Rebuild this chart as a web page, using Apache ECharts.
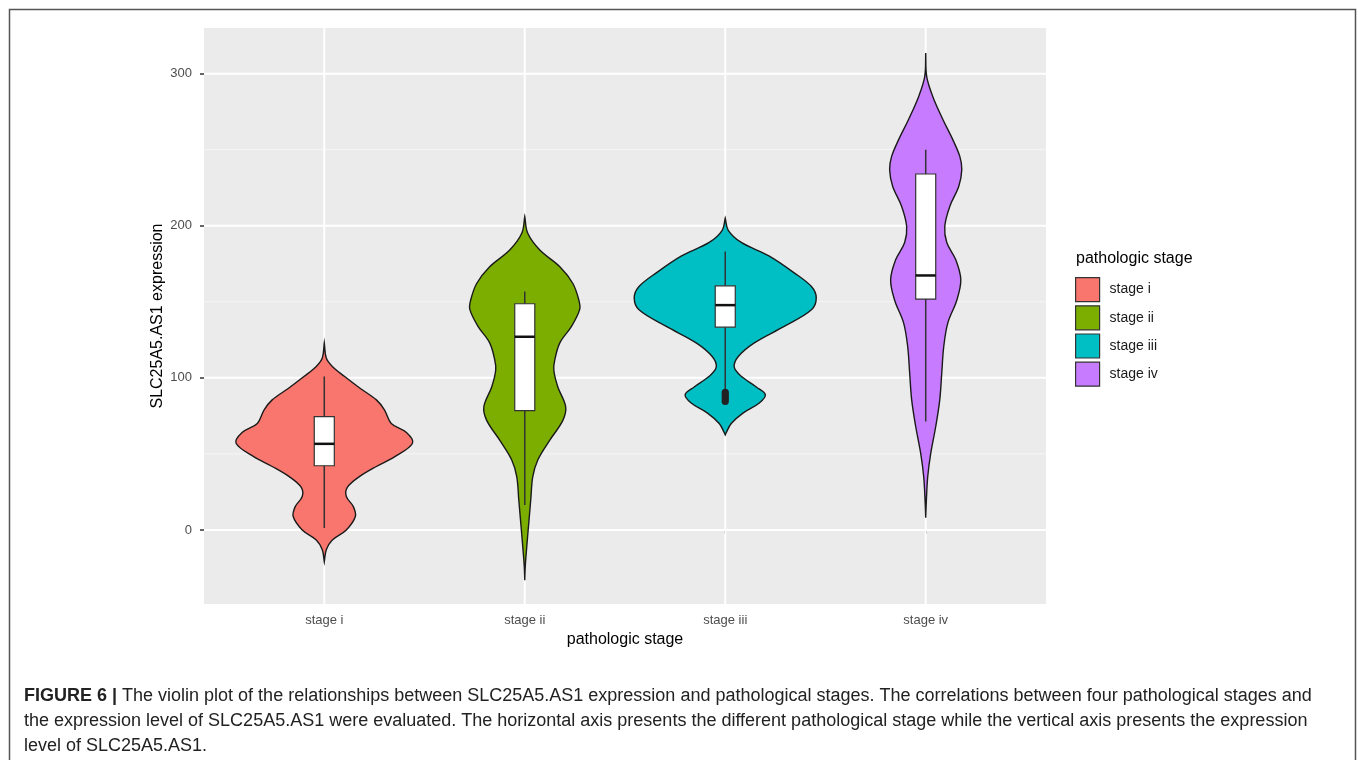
<!DOCTYPE html>
<html>
<head>
<meta charset="utf-8">
<script src="https://cdn.jsdelivr.net/npm/echarts@6/dist/echarts.min.js"></script>
<style>
html,body{margin:0;padding:0;background:#fff;}
#c{width:1358px;height:760px;}
</style>
</head>
<body>
<div id="c"></div>
<script>
// ---- data ----
const stages = ['stage i', 'stage ii', 'stage iii', 'stage iv'];
const colors = ['#F8766D', '#7CAE00', '#00BFC4', '#C77CFF'];
const yTicks = [0, 100, 200, 300];
const yMinorTicks = [50, 150, 250];

// violin outlines: y values and half-widths (in category units)
const violinY1 = [123, 113, 107.5, 101, 93, 85.5, 79, 70, 64, 57, 48, 41.7, 35, 28, 22, 15.3, 8.8, 0, -6.6, -13, -21];
const violinW1 = [0, 0.01, 0.04, 0.10, 0.18, 0.26, 0.30, 0.334, 0.41, 0.44, 0.35, 0.26, 0.175, 0.115, 0.11, 0.145, 0.155, 0.11, 0.04, 0.01, 0];
const violinY2 = [206, 195, 184, 173, 162, 151, 145, 134, 123, 112, 105, 94, 81, 72, 59, 46, 35, 20, 4.6, -11, -24, -33];
const violinW2 = [0, 0.015, 0.075, 0.175, 0.24, 0.27, 0.274, 0.234, 0.175, 0.15, 0.145, 0.165, 0.204, 0.19, 0.125, 0.065, 0.04, 0.03, 0.02, 0.01, 0.0025, 0];
const violinY3 = [205, 197, 189, 180, 169, 160, 152.6, 144.7, 133.8, 123, 114, 107, 101, 94, 89, 83.5, 77, 70, 64, 62.5];
const violinW3 = [0, 0.015, 0.08, 0.22, 0.344, 0.43, 0.454, 0.43, 0.294, 0.145, 0.065, 0.045, 0.08, 0.155, 0.2, 0.17, 0.09, 0.03, 0.005, 0];
const violinY4 = [313.6, 298, 285, 270, 256.6, 245.6, 237, 226, 212.7, 199.5, 189, 177.6, 164.5, 151, 136, 120.6, 103, 85.5, 68, 50.4, 35, 20, 8];
const violinW4 = [0, 0.005, 0.035, 0.085, 0.135, 0.17, 0.18, 0.165, 0.12, 0.095, 0.105, 0.15, 0.175, 0.155, 0.11, 0.09, 0.08, 0.07, 0.05, 0.025, 0.01, 0.0035, 0];

// box plot statistics
const whiskerLow  = [1.3, 16.4, 92, 71.3];
const q1          = [42.2, 78.5, 133.3, 151.8];
const median      = [56.6, 127, 147.8, 167.3];
const q3          = [74.5, 148.7, 160.5, 234];
const whiskerHigh = [100.9, 156.8, 183, 250];
const outliers1 = [];
const outliers2 = [];
const outliers3 = [84.5, 86, 87.5, 89, 90.5];
const outliers4 = [];

const violinYs = [violinY1, violinY2, violinY3, violinY4];
const violinWs = [violinW1, violinW2, violinW3, violinW4];
const outlierSets = [outliers1, outliers2, outliers3, outliers4];

const chart = echarts.init(document.getElementById('c'));

const BOX_HALF = 0.05;
const lineCol = '#333333';

function violinSeries(i) {
  return {
    type: 'custom',
    name: stages[i],
    coordinateSystem: 'cartesian2d',
    itemStyle: { color: colors[i] },
    z: 5,
    silent: true,
    data: [[i + 1, median[i]]],
    renderItem: function (params, api) {
      const xc = i + 1;
      const ys = violinYs[i], ws = violinWs[i];
      const right = [], left = [];
      for (let k = 0; k < ys.length; k++) {
        right.push(api.coord([xc + ws[k], ys[k]]));
        left.push(api.coord([xc - ws[k], ys[k]]));
      }
      const pts = right.concat(left.reverse());
      const children = [];
      children.push({
        type: 'polygon',
        shape: { points: pts, smooth: 0.35 },
        style: { fill: colors[i], stroke: '#1a1a1a', lineWidth: 1.4 }
      });
      const wl = api.coord([xc, whiskerLow[i]]);
      const wh = api.coord([xc, whiskerHigh[i]]);
      children.push({
        type: 'line',
        shape: { x1: wl[0], y1: wl[1], x2: wh[0], y2: wh[1] },
        style: { stroke: lineCol, lineWidth: 1.5 }
      });
      const tl = api.coord([xc - BOX_HALF, q3[i]]);
      const br = api.coord([xc + BOX_HALF, q1[i]]);
      children.push({
        type: 'rect',
        shape: { x: tl[0], y: tl[1], width: br[0] - tl[0], height: br[1] - tl[1] },
        style: { fill: '#ffffff', stroke: lineCol, lineWidth: 1.2 }
      });
      const ml = api.coord([xc - BOX_HALF, median[i]]);
      const mr = api.coord([xc + BOX_HALF, median[i]]);
      children.push({
        type: 'line',
        shape: { x1: ml[0], y1: ml[1], x2: mr[0], y2: mr[1] },
        style: { stroke: '#111', lineWidth: 2.5 }
      });
      outlierSets[i].forEach(function (v) {
        const p = api.coord([xc, v]);
        children.push({
          type: 'circle',
          shape: { cx: p[0], cy: p[1], r: 3.6 },
          style: { fill: '#222', stroke: null }
        });
      });
      return { type: 'group', children: children };
    }
  };
}

const gridSeries = {
  type: 'custom',
  name: 'grid',
  coordinateSystem: 'cartesian2d',
  silent: true,
  z: 1,
  data: [[0]],
  renderItem: function (params, api) {
    const cs = params.coordSys;
    const children = [];
    yMinorTicks.forEach(function (v) {
      const y = api.coord([1, v])[1];
      children.push({ type: 'line', shape: { x1: cs.x, y1: y, x2: cs.x + cs.width, y2: y }, style: { stroke: '#F6F6F6', lineWidth: 1 } });
    });
    yTicks.forEach(function (v) {
      const y = api.coord([1, v])[1];
      children.push({ type: 'line', shape: { x1: cs.x, y1: y, x2: cs.x + cs.width, y2: y }, style: { stroke: '#FFFFFF', lineWidth: 2 } });
    });
    stages.forEach(function (s, k) {
      const x = api.coord([k + 1, 0])[0];
      children.push({ type: 'line', shape: { x1: x, y1: cs.y, x2: x, y2: cs.y + cs.height }, style: { stroke: '#FFFFFF', lineWidth: 2 } });
    });
    return { type: 'group', children: children };
  }
};

const captionFont = '"Liberation Sans", Arial, sans-serif';
const capSize = 18;
const option = {
  animation: false,
  backgroundColor: '#ffffff',
  textStyle: { fontFamily: '"Liberation Sans", Arial, sans-serif' },
  grid: { left: 204, top: 28, width: 842, height: 576, show: true, backgroundColor: '#EBEBEB', borderWidth: 0 },
  xAxis: {
    type: 'value', min: 0.4, max: 4.6,
    axisLine: { show: false },
    axisTick: { show: true, customValues: [1, 2, 3, 4], length: 4, lineStyle: { color: '#333', width: 1.5 } },
    axisLabel: { customValues: [1, 2, 3, 4], formatter: function (v) { return stages[Math.round(v) - 1] || ''; }, color: '#4D4D4D', fontSize: 13, margin: 10 },
    splitLine: { show: false },
    name: 'pathologic stage', nameLocation: 'middle', nameGap: 28,
    nameTextStyle: { fontSize: 16, color: '#000' }
  },
  yAxis: {
    type: 'value', min: -48.7, max: 330,
    axisLine: { show: false },
    axisTick: { show: true, customValues: yTicks, length: 4, lineStyle: { color: '#333', width: 1.5 } },
    axisLabel: { customValues: yTicks, color: '#4D4D4D', fontSize: 13, margin: 12 },
    splitLine: { show: false }
  },
  legend: {
    orient: 'vertical', left: 1070, top: 272,
    itemWidth: 24, itemHeight: 24, itemGap: 3,
    icon: 'rect',
    itemStyle: { borderColor: '#333', borderWidth: 1.2 },
    textStyle: { fontSize: 14, color: '#1a1a1a', padding: [0, 0, 0, 5] },
    data: stages.map(function (s) { return { name: s, icon: 'rect' }; }),
    selectedMode: false
  },
  graphic: [
    { type: 'rect', left: 7, top: 7, shape: { x: 0, y: 0, width: 1346, height: 800 }, style: { fill: 'none', stroke: '#555', lineWidth: 1.5 }, silent: true, z: -1 },
    { type: 'text', x: 158, y: 316, rotation: Math.PI / 2, style: { text: 'SLC25A5.AS1 expression', fontSize: 16, fill: '#000', fontFamily: captionFont, textAlign: 'center', textVerticalAlign: 'middle' } },
    { type: 'text', left: 1076, top: 251, style: { text: 'pathologic stage', fontSize: 16, fill: '#000', fontFamily: captionFont } },
    { type: 'text', left: 24, top: 687, style: { text: '{b|FIGURE 6 |} The violin plot of the relationships between SLC25A5.AS1 expression and pathological stages. The correlations between four pathological stages and', rich: { b: { fontWeight: 'bold', fontSize: capSize, fontFamily: captionFont, fill: '#222' } }, fontSize: capSize, fontFamily: captionFont, fill: '#222' } },
    { type: 'text', left: 24, top: 712, style: { text: 'the expression level of SLC25A5.AS1 were evaluated. The horizontal axis presents the different pathological stage while the vertical axis presents the expression', fontSize: capSize, fontFamily: captionFont, fill: '#222' } },
    { type: 'text', left: 24, top: 737, style: { text: 'level of SLC25A5.AS1.', fontSize: capSize, fontFamily: captionFont, fill: '#222' } }
  ],
  series: [gridSeries].concat(stages.map(function (s, i) { return violinSeries(i); }))
};
chart.setOption(option);
</script>
</body>
</html>
